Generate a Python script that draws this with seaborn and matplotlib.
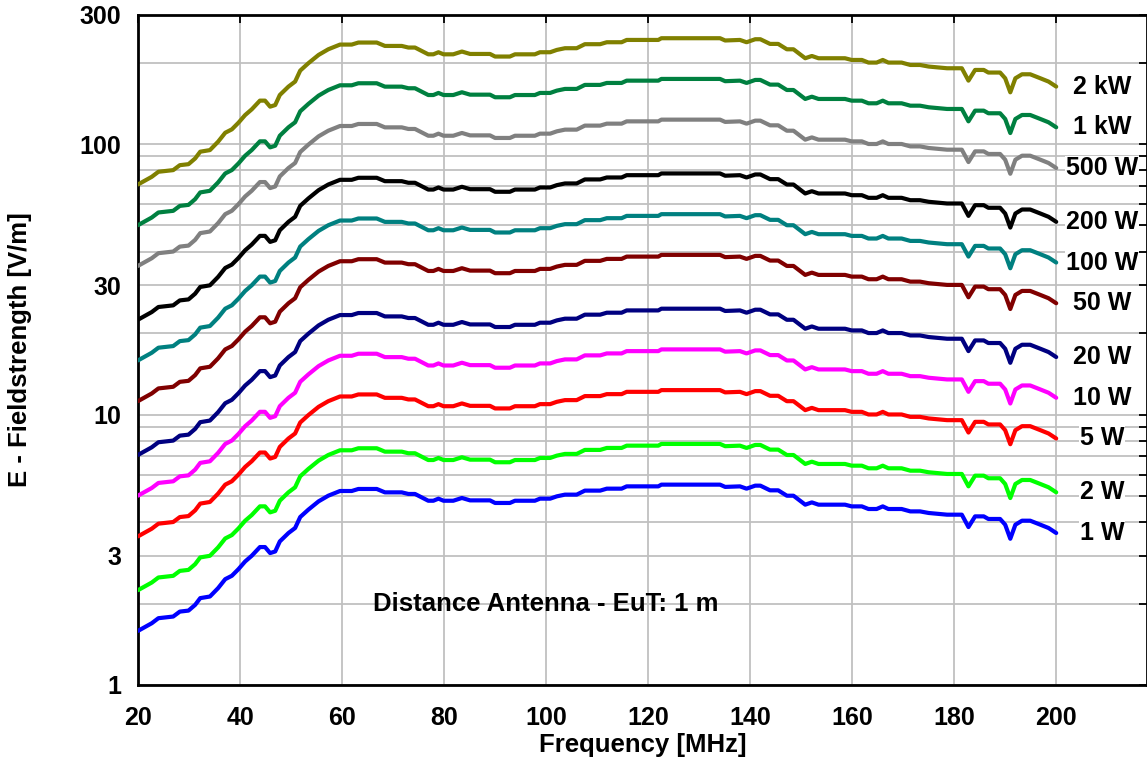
import numpy as np
import pandas as pd
import matplotlib
matplotlib.use("Agg")
import matplotlib.pyplot as plt
import matplotlib.ticker as mticker
import seaborn as sns

# frequency points [MHz] and field strength for 1 W input [V/m]
freq_mhz = [20, 22.7, 24, 26.9, 28.2, 29.9, 31.2, 32.2, 34.1, 35.7, 37.1, 38.4, 39.7,
            41, 42.3, 43.9, 44.9, 45.9, 46.9, 47.8, 49.5, 50.8, 51.8, 53.4, 55.4, 57.3,
            59.6, 61.9, 63.2, 66.8, 68.4, 71.7, 73, 74.3, 76.9, 77.9, 78.9, 79.9, 81.8,
            83.5, 85.1, 89, 90, 92.9, 93.9, 97.8, 98.8, 100.8, 102.1, 103.7, 106, 107.6,
            110.6, 111.9, 114.8, 115.8, 122, 122.6, 134.1, 135.1, 138, 139.3, 141, 142,
            143.9, 145.5, 147.2, 148.5, 150.8, 152.1, 153.4, 158.6, 159.9, 161.9, 163.2,
            164.8, 166, 167.1, 169.7, 171.4, 173.3, 175, 178.6, 181.5, 182.8, 184.1,
            185.8, 186.7, 189, 190, 191, 192, 193.3, 194.9, 196.9, 198.5, 200]
field_1w = [1.585, 1.692, 1.766, 1.791, 1.868, 1.884, 1.978, 2.095, 2.124, 2.281, 2.462,
            2.534, 2.682, 2.862, 3.005, 3.236, 3.236, 3.074, 3.117, 3.395, 3.647, 3.806,
            4.179, 4.45, 4.775, 5.01, 5.215, 5.215, 5.306, 5.306, 5.155, 5.155, 5.085,
            5.085, 4.80, 4.80, 4.886, 4.80, 4.80, 4.915, 4.815, 4.815, 4.71, 4.71, 4.80,
            4.80, 4.886, 4.886, 4.983, 5.056, 5.056, 5.232, 5.232, 5.32, 5.32, 5.425,
            5.425, 5.505, 5.505, 5.40, 5.425, 5.32, 5.458, 5.458, 5.245, 5.245, 5.01,
            5.01, 4.642, 4.733, 4.642, 4.642, 4.575, 4.575, 4.474, 4.474, 4.575, 4.474,
            4.474, 4.384, 4.384, 4.325, 4.263, 4.263, 3.837, 4.202, 4.202, 4.11, 4.11,
            3.914, 3.473, 3.914, 4.05, 4.05, 3.914, 3.806, 3.647]

# amplifier output power [W], curve labels and colours
power_w = [1, 2, 5, 10, 20, 50, 100, 200, 500, 1000, 2000]
power_labels = ["1 W", "2 W", "5 W", "10 W", "20 W", "50 W", "100 W", "200 W",
                "500 W", "1 kW", "2 kW"]
line_colors = ["#0000ff", "#00ff00", "#ff0000", "#ff00ff", "#000080", "#800000",
               "#008080", "#000000", "#808080", "#008040", "#808000"]

y_major = [1, 3, 10, 30, 100, 300]

# E scales with sqrt(P)
rows = []
for p, lab in zip(power_w, power_labels):
    for f, e in zip(freq_mhz, field_1w):
        rows.append({"freq": f, "field": e * np.sqrt(p), "power": lab})
df = pd.DataFrame(rows)

sns.set_style("white")
plt.rcParams["font.family"] = ["Liberation Sans", "DejaVu Sans"]
plt.rcParams["font.weight"] = "bold"
plt.rcParams["text.color"] = "black"
plt.rcParams["axes.labelcolor"] = "black"

fig = plt.figure(figsize=(11.47, 7.67), dpi=100)
ax = fig.add_axes([138 / 1147, 82 / 767, (1147 - 138) / 1147, 670 / 767])

sns.lineplot(data=df, x="freq", y="field", hue="power", hue_order=power_labels,
             palette=dict(zip(power_labels, line_colors)), linewidth=3.0,
             sort=False, legend=False, ax=ax, zorder=3)

ax.set_yscale("log")
ax.set_xlim(20, 217.8)
ax.set_ylim(1, 300)

ax.xaxis.set_major_locator(mticker.MultipleLocator(20))
ax.yaxis.set_major_locator(mticker.FixedLocator(y_major))
minor_vals = [m * 10.0 ** d for d in range(0, 3) for m in range(2, 10)
              if m * 10.0 ** d not in y_major and m * 10.0 ** d < 300]
ax.yaxis.set_minor_locator(mticker.FixedLocator(minor_vals))
ax.yaxis.set_major_formatter(mticker.FuncFormatter(lambda v, _: f"{v:g}"))
ax.yaxis.set_minor_formatter(mticker.NullFormatter())

ax.grid(True, which="both", color="#c0c0c0", linewidth=1.3, zorder=0)
ax.grid(False, which="minor", axis="x")

ax.tick_params(axis="both", which="both", direction="in", length=6, width=1.3,
               colors="black", labelsize=18, top=True, right=True)
ax.tick_params(axis="x", pad=15)
ax.tick_params(axis="y", pad=12)
for lbl in ax.get_xticklabels() + ax.get_yticklabels():
    lbl.set_fontweight("bold")

for s in ax.spines.values():
    s.set_color("black")
    s.set_linewidth(2)

ax.set_xlabel("Frequency [MHz]", fontsize=18.5, fontweight="bold", color="black")
ax.set_ylabel("E - Fieldstrength [V/m]", fontsize=18.5, fontweight="bold", color="black")
ax.xaxis.set_label_coords(0.5, -0.072)
ax.yaxis.set_label_coords(-0.105, 0.5)

# curve labels at the end of each curve
for p, lab in zip(power_w, power_labels):
    ax.text(209, field_1w[-1] * np.sqrt(p), lab, ha="center", va="center",
            fontsize=18, fontweight="bold", color="black", zorder=4,
            bbox=dict(facecolor="white", edgecolor="none", pad=0.3))

ax.text(100, 1.99, "Distance Antenna - EuT: 1 m", ha="center", va="center",
        fontsize=18.5, fontweight="bold", color="black")

fig.savefig("out.png", dpi=100)
